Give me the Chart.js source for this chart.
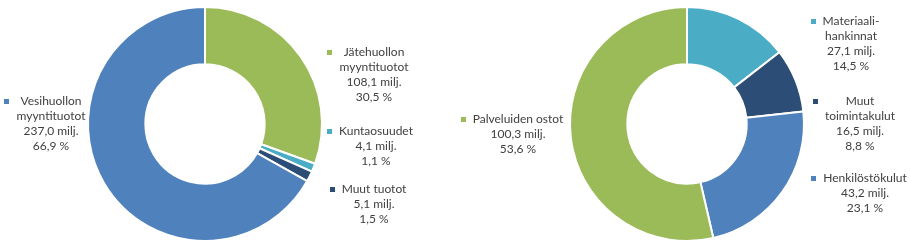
<!DOCTYPE html>
<html>
<head>
<meta charset="utf-8">
<script src="https://cdn.jsdelivr.net/npm/chart.js@4.4.1/dist/chart.umd.min.js"></script>
<style>
    html, body { margin: 0; padding: 0; background: #fff; }
    #wrap { position: relative; width: 910px; height: 249px; }
    canvas { position: absolute; top: 0; }
    #tuototContainer { left: 0; }
    #kulutContainer { left: 455px; }
</style>
</head>
<body>
<div id="wrap">
    <canvas id="tuototContainer" width="455" height="249"></canvas>
    <canvas id="kulutContainer" width="455" height="249"></canvas>
</div>
<script>
// Tuotot (milj. €), clockwise from twelve o'clock
const tuotot_names = [
    ['Jätehuollon', 'myyntituotot'],
    ['Kuntaosuudet'],
    ['Muut tuotot'],
    ['Vesihuollon', 'myyntituotot']
];
const tuotot_values = [108.1, 4.1, 5.1, 237.0];
const tuotot_pct = ['30,5', '1,1', '1,5', '66,9'];

// Kulut (milj. €), clockwise from twelve o'clock
const kulut_names = [
    ['Materiaali-', 'hankinnat'],
    ['Muut', 'toimintakulut'],
    ['Henkilöstökulut'],
    ['Palveluiden ostot']
];
const kulut_values = [27.1, 16.5, 43.2, 100.3];
const kulut_pct = ['14,5', '8,8', '23,1', '53,6'];

const BLUE = '#4f81bd';
const GREEN = '#9bbb59';
const AQUA = '#4bacc6';
const NAVY = '#2c4d75';

const FONT = "12px Lato, 'Open Sans', sans-serif";
const TEXT_COLOR = '#404040';
const LINE_H = 15;

// draws the label blocks next to the ring, each offset from the ring centre
const sliceLabels = {
    id: 'sliceLabels',
    afterDraw(chart, args, opts) {
        const ctx = chart.ctx;
        const ds = chart.data.datasets[0];
        const arc = chart.getDatasetMeta(0).data[0];
        ctx.save();
        ctx.font = FONT;
        ctx.textAlign = 'center';
        ctx.textBaseline = 'middle';
        opts.spots.forEach((spot, i) => {
            const lines = opts.names[i].concat([
                ds.data[i].toFixed(1).replace('.', ',') + ' milj.',
                opts.pct[i] + ' %'
            ]);
            const bx = arc.x + spot[0];
            const top = arc.y + spot[1] - (lines.length - 1) * LINE_H / 2;
            let widest = 0;
            lines.forEach((line, j) => {
                widest = Math.max(widest, ctx.measureText(line).width);
                ctx.fillStyle = TEXT_COLOR;
                ctx.fillText(line, bx, top + j * LINE_H);
            });
            // legend key in front of the first line
            ctx.fillStyle = ds.backgroundColor[i];
            ctx.fillRect(Math.round(bx - widest / 2 - 12), Math.round(top - 2), 5, 5);
        });
        ctx.restore();
    }
};

const canvas_tuotot = document.getElementById('tuototContainer');
const ctx_tuotot = canvas_tuotot.getContext('2d');

let chart_tuotot = new Chart(ctx_tuotot, {
    type: 'doughnut',
    data: {
        labels: tuotot_names.map(n => n.join(' ')),
        datasets: [{
            backgroundColor: [GREEN, AQUA, NAVY, BLUE],
            borderColor: '#fff',
            borderWidth: 2,
            data: tuotot_values,
        }]
    },
    options: {
        responsive: false,
        animation: false,
        cutout: '51%',
        layout: {
            padding: { left: 87, right: 132, top: 6, bottom: 7 }
        },
        plugins: {
            legend: { display: false },
            tooltip: { enabled: false },
            sliceLabels: {
                names: tuotot_names,
                pct: tuotot_pct,
                spots: [[169, -49.5], [171, 22], [169, 80], [-154, -0.5]]
            }
        }
    },
    plugins: [sliceLabels]
});

const canvas_kulut = document.getElementById('kulutContainer');
const ctx_kulut = canvas_kulut.getContext('2d');

let chart_kulut = new Chart(ctx_kulut, {
    type: 'doughnut',
    data: {
        labels: kulut_names.map(n => n.join(' ')),
        datasets: [{
            backgroundColor: [AQUA, NAVY, BLUE, GREEN],
            borderColor: '#fff',
            borderWidth: 2,
            data: kulut_values,
        }]
    },
    options: {
        responsive: false,
        animation: false,
        cutout: '51%',
        layout: {
            padding: { left: 114, right: 105, top: 6, bottom: 7 }
        },
        plugins: {
            legend: { display: false },
            tooltip: { enabled: false },
            sliceLabels: {
                names: kulut_names,
                pct: kulut_pct,
                spots: [[164, -80.5], [173, -0.5], [178, 69], [-169, 10]]
            }
        }
    },
    plugins: [sliceLabels]
});
</script>
</body>
</html>
